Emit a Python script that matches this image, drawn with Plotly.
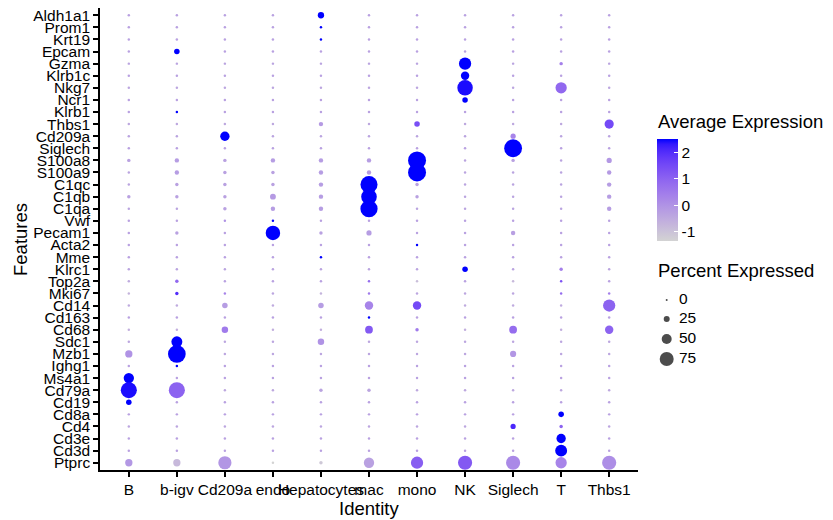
import plotly.graph_objects as go

genes = ["Aldh1a1","Prom1","Krt19","Epcam","Gzma","Klrb1c","Nkg7","Ncr1","Klrb1","Thbs1",
         "Cd209a","Siglech","S100a8","S100a9","C1qc","C1qb","C1qa","Vwf","Pecam1","Acta2",
         "Mme","Klrc1","Top2a","Mki67","Cd14","Cd163","Cd68","Sdc1","Mzb1","Ighg1",
         "Ms4a1","Cd79a","Cd19","Cd8a","Cd4","Cd3e","Cd3d","Ptprc"]

identities = ["B","b-igv","Cd209a","endo","Hepatocytes","mac","mono","NK","Siglech","T","Thbs1"]

# percent expressed, one row per gene, columns follow `identities`
pct_expressed = [
    [3,3,3,3,27,3,3,3,3,3,3],        # Aldh1a1
    [3,3,3,3,3,3,3,3,3,3,3],         # Prom1
    [3,3,3,3,3,3,3,3,3,3,3],         # Krt19
    [3,22,3,3,3,3,3,3,3,3,3],        # Epcam
    [3,3,3,3,3,3,3,64,3,9,3],        # Gzma
    [3,3,3,3,3,3,3,40,3,3,3],        # Klrb1c
    [3,3,3,3,3,3,3,84,3,58,3],       # Nkg7
    [3,3,3,3,3,3,3,22,3,3,3],        # Ncr1
    [3,3,3,3,3,3,3,3,3,3,3],         # Klrb1
    [3,3,3,3,15,3,22,3,3,3,45],      # Thbs1
    [3,3,46,3,3,3,3,3,20,3,3],       # Cd209a
    [3,3,3,3,3,3,3,3,99,3,3],        # Siglech
    [9,15,9,15,15,15,100,3,9,3,20],  # S100a8
    [3,15,9,9,15,15,100,3,3,3,15],   # S100a9
    [3,9,9,9,15,94,9,3,3,3,15],      # C1qc
    [9,9,9,24,15,85,9,3,3,3,15],     # C1qb
    [3,3,9,15,15,95,3,3,3,3,15],     # C1qa
    [3,3,3,3,3,3,3,3,3,3,3],         # Vwf
    [3,9,3,78,9,20,3,3,15,3,3],      # Pecam1
    [3,3,3,3,3,3,3,3,3,3,3],         # Acta2
    [3,3,3,3,3,3,3,3,3,3,3],         # Mme
    [3,3,3,3,3,3,3,22,3,9,3],        # Klrc1
    [3,9,3,3,3,3,3,3,3,3,3],         # Top2a
    [3,9,3,3,3,3,3,3,3,3,3],         # Mki67
    [3,3,22,3,22,40,40,3,3,3,64],    # Cd14
    [3,3,3,3,3,3,3,3,3,3,3],         # Cd163
    [3,3,28,3,3,36,9,3,36,3,40],     # Cd68
    [3,56,3,3,28,3,3,3,3,3,3],       # Sdc1
    [33,98,3,3,3,3,3,3,26,3,3],      # Mzb1
    [3,3,3,3,3,3,3,3,3,3,3],         # Ighg1
    [52,3,3,3,3,3,3,3,3,3,3],        # Ms4a1
    [88,88,3,3,9,9,3,3,3,3,3],       # Cd79a
    [22,3,3,3,3,3,3,3,3,3,3],        # Cd19
    [3,3,3,3,3,3,3,3,3,22,3],        # Cd8a
    [3,3,3,3,3,3,3,3,20,9,3],        # Cd4
    [3,3,3,3,3,3,3,3,3,46,3],        # Cd3e
    [3,3,3,3,3,3,3,3,3,62,3],        # Cd3d
    [33,33,70,3,9,52,64,76,76,58,76],# Ptprc
]

# scaled average expression, same layout
avg_expression = [
    [-0.3,-0.3,-0.3,-0.3,2.5,-0.3,-0.3,-0.3,-0.3,-0.3,-0.3],     # Aldh1a1
    [-0.3,-0.3,-0.3,-0.3,2.5,-0.3,-0.3,-0.3,-0.3,-0.3,-0.3],     # Prom1
    [-0.3,-0.3,-0.3,-0.3,2.5,-0.3,-0.3,-0.3,-0.3,-0.3,-0.3],     # Krt19
    [-0.3,2.5,-0.3,-0.3,-0.3,-0.3,-0.3,-0.3,-0.3,-0.3,-0.3],     # Epcam
    [-0.35,-0.35,-0.35,-0.35,-0.35,-0.35,-0.35,2.5,-0.35,0.4,-0.35], # Gzma
    [-0.3,-0.3,-0.3,-0.3,-0.3,-0.3,-0.3,2.5,-0.3,-0.3,-0.3],     # Klrb1c
    [-0.4,-0.4,-0.4,-0.4,-0.4,-0.4,-0.4,2.4,-0.4,0.9,-0.4],      # Nkg7
    [-0.3,-0.3,-0.3,-0.3,-0.3,-0.3,-0.3,2.5,-0.3,-0.3,-0.3],     # Ncr1
    [-0.3,2.5,-0.3,-0.3,-0.3,-0.3,-0.3,-0.3,-0.3,-0.3,-0.3],     # Klrb1
    [-0.45,-0.45,-0.45,-0.45,-0.15,-0.45,1.4,-0.45,-0.45,-0.45,1.5], # Thbs1
    [-0.35,-0.35,2.5,-0.35,-0.35,-0.35,-0.35,-0.35,0.3,-0.35,-0.35], # Cd209a
    [-0.3,-0.3,-0.3,-0.3,-0.3,-0.3,-0.3,-0.3,2.5,-0.3,-0.3],     # Siglech
    [-0.3,-0.2,-0.3,-0.2,-0.2,-0.2,2.5,-0.35,-0.3,-0.35,-0.1],   # S100a8
    [-0.35,-0.2,-0.3,-0.3,-0.2,-0.2,2.5,-0.35,-0.35,-0.35,-0.15],# S100a9
    [-0.35,-0.3,-0.3,-0.3,-0.2,2.5,-0.3,-0.35,-0.35,-0.35,-0.2], # C1qc
    [-0.3,-0.3,-0.3,-0.15,-0.2,2.5,-0.3,-0.35,-0.35,-0.35,-0.2], # C1qb
    [-0.35,-0.35,-0.3,-0.2,-0.2,2.5,-0.35,-0.35,-0.35,-0.35,-0.2], # C1qa
    [-0.3,-0.3,0.0,2.5,-0.3,-0.3,-0.3,-0.3,-0.3,-0.3,-0.3],      # Vwf
    [-0.3,-0.3,-0.3,2.5,-0.3,-0.2,-0.3,-0.3,-0.25,-0.3,-0.3],    # Pecam1
    [-0.3,-0.3,-0.3,-0.3,-0.3,-0.3,2.5,-0.3,-0.3,-0.3,-0.3],     # Acta2
    [-0.3,-0.3,-0.3,-0.3,2.5,-0.3,-0.3,-0.3,-0.3,-0.3,-0.3],     # Mme
    [-0.35,-0.35,-0.35,-0.35,-0.35,-0.35,-0.35,2.5,-0.35,0.4,-0.35], # Klrc1
    [-0.5,0.9,-0.3,-0.3,-0.3,0.8,-0.9,-0.3,-0.8,1.3,-0.3],       # Top2a
    [-0.7,2.0,0.3,-0.4,-0.7,0.5,-0.4,-0.4,-0.4,0.8,0.4],         # Mki67
    [-0.5,-0.5,-0.2,-0.5,-0.2,0.3,1.5,-0.5,-0.5,-0.5,1.0],       # Cd14
    [-0.3,-0.3,-0.3,-0.3,-0.3,2.5,-0.3,-0.3,-0.3,-0.3,-0.3],     # Cd163
    [-0.6,-0.6,0.5,-0.6,-0.6,1.2,0.5,-0.6,0.8,-0.6,1.0],         # Cd68
    [-0.4,2.5,-0.4,-0.4,0.0,-0.4,-0.4,-0.4,-0.4,-0.4,-0.4],      # Sdc1
    [0.0,2.5,-0.4,-0.4,-0.4,-0.4,-0.4,-0.4,-0.05,-0.4,-0.4],     # Mzb1
    [-0.3,2.5,-0.3,-0.3,-0.3,-0.3,-0.3,-0.3,-0.3,-0.3,-0.3],     # Ighg1
    [2.5,-0.3,-0.3,-0.3,-0.3,-0.3,-0.3,-0.3,-0.3,-0.3,-0.3],     # Ms4a1
    [2.4,1.0,-0.45,-0.45,-0.35,-0.35,-0.45,-0.45,-0.45,-0.45,-0.45], # Cd79a
    [2.5,-0.3,-0.3,-0.3,-0.3,-0.3,-0.3,-0.3,-0.3,-0.3,-0.3],     # Cd19
    [-0.3,-0.3,-0.3,-0.3,-0.3,-0.3,-0.3,-0.3,-0.3,2.5,-0.3],     # Cd8a
    [-0.4,-0.4,-0.4,-0.4,-0.4,-0.4,-0.4,-0.4,2.1,1.0,-0.4],      # Cd4
    [-0.3,-0.3,-0.3,-0.3,-0.3,-0.3,-0.3,-0.3,-0.3,2.5,-0.3],     # Cd3e
    [-0.3,-0.3,-0.3,-0.3,-0.3,-0.3,-0.3,-0.3,-0.3,2.5,-0.3],     # Cd3d
    [-0.1,-0.8,-0.05,-1.34,-1.1,-0.3,1.1,1.2,0.2,0.3,0.1],       # Ptprc
]

size_legend_values = [0, 25, 50, 75]
color_ticks = [-1, 0, 1, 2]

FONT = "Liberation Sans, Arial, sans-serif"
TICK_SIZE = 15.5
TITLE_SIZE = 18.5


def dot_size(p):
    return 2.0 + 0.16 * p


# ---- ggplot-like gradient lightgrey -> blue, interpolated in CIELAB ----
def _srgb_to_lin(c):
    c = c / 255.0
    return c / 12.92 if c <= 0.04045 else ((c + 0.055) / 1.055) ** 2.4


def _lin_to_srgb(c):
    c = 12.92 * c if c <= 0.0031308 else 1.055 * (c ** (1 / 2.4)) - 0.055
    return max(0, min(255, round(c * 255)))


def rgb_to_lab(rgb):
    r, g, b = (_srgb_to_lin(v) for v in rgb)
    X = 0.4124 * r + 0.3576 * g + 0.1805 * b
    Y = 0.2126 * r + 0.7152 * g + 0.0722 * b
    Z = 0.0193 * r + 0.1192 * g + 0.9505 * b
    Xn, Yn, Zn = 0.95047, 1.0, 1.08883

    def f(t):
        return t ** (1 / 3) if t > 216 / 24389 else (24389 / 27 * t + 16) / 116
    fx, fy, fz = f(X / Xn), f(Y / Yn), f(Z / Zn)
    return (116 * fy - 16, 500 * (fx - fy), 200 * (fy - fz))


def lab_to_rgb(lab):
    L, a, b = lab
    fy = (L + 16) / 116
    fx = fy + a / 500
    fz = fy - b / 200

    def finv(t):
        return t ** 3 if t ** 3 > 216 / 24389 else (116 * t - 16) / (24389 / 27)
    X, Y, Z = 0.95047 * finv(fx), finv(fy), 1.08883 * finv(fz)
    r = 3.2406 * X - 1.5372 * Y - 0.4986 * Z
    g = -0.9689 * X + 1.8758 * Y + 0.0415 * Z
    bb = 0.0557 * X - 0.2040 * Y + 1.0570 * Z
    return tuple(_lin_to_srgb(max(0.0, v)) for v in (r, g, bb))


lo = rgb_to_lab((211, 211, 211))
hi = rgb_to_lab((0, 0, 255))
colorscale = []
N = 20
for i in range(N + 1):
    t = i / N
    lab = tuple(lo[k] + (hi[k] - lo[k]) * t for k in range(3))
    r, g, b = lab_to_rgb(lab)
    colorscale.append([t, f"rgb({r},{g},{b})"])

# ---- build long-format data ----
xs, ys, sz, cl = [], [], [], []
for gi, gene in enumerate(genes):
    for ci, ident in enumerate(identities):
        xs.append(ident)
        ys.append(gene)
        sz.append(dot_size(pct_expressed[gi][ci]))
        cl.append(avg_expression[gi][ci])

cmin = min(min(r) for r in avg_expression)
cmax = max(max(r) for r in avg_expression)

# The page body has an 8px default margin; work in window pixels and offset.
OFF = 8
W, H = 833 - OFF, 520 - OFF
PLOT_L, PLOT_R, PLOT_T, PLOT_B = 100, 638, 8, 470      # window pixels
ML = PLOT_L - OFF
MT = PLOT_T - OFF
MB = H - (PLOT_B - OFF)
MR = 5
PW = W - ML - MR
PH = H - MT - MB


def px_x(px):
    return (px - OFF - ML) / PW


def px_y(py):
    return (H - MB - (py - OFF)) / PH


# colour bar geometry (window pixels)
CB_L, CB_W, CB_CY, CB_LEN = 657, 21, 190, 102

fig = go.Figure()
fig.add_trace(go.Scatter(
    x=xs, y=ys, mode="markers", showlegend=False, hoverinfo="skip",
    marker=dict(
        size=sz, sizemode="diameter", color=cl, colorscale=colorscale,
        cmin=cmin, cmax=cmax, line=dict(width=0), opacity=1,
        colorbar=dict(
            x=px_x(CB_L), xanchor="left", xpad=0,
            y=px_y(CB_CY), yanchor="middle", ypad=0,
            len=CB_LEN, lenmode="pixels", thickness=CB_W, thicknessmode="pixels",
            outlinewidth=0, tickmode="array", tickvals=color_ticks,
            ticktext=[str(v) for v in color_ticks],
            ticks="inside", ticklen=4, tickcolor="white", tickwidth=1,
            tickfont=dict(family=FONT, size=TICK_SIZE, color="black"),
        ),
    ),
))

# white tick marks on the left edge of the colour bar (ggplot style)
cb_shapes = []
for v in color_ticks:
    py = CB_CY + CB_LEN / 2 - (v - cmin) / (cmax - cmin) * CB_LEN
    cb_shapes.append(dict(
        type="line", xref="paper", yref="paper",
        x0=px_x(CB_L), x1=px_x(CB_L + 4), y0=px_y(py), y1=px_y(py),
        line=dict(color="white", width=1), layer="above",
    ))

# size legend drawn on its own small axes
leg_y = [10, 29, 49, 69]
fig.add_trace(go.Scatter(
    x=[11.7] * len(size_legend_values), y=leg_y, mode="markers",
    xaxis="x2", yaxis="y2", showlegend=False, hoverinfo="skip",
    marker=dict(size=[dot_size(v) for v in size_legend_values], sizemode="diameter",
                color="black", line=dict(width=0)),
))
fig.add_trace(go.Scatter(
    x=[24] * len(size_legend_values), y=leg_y, mode="text",
    text=[str(v) for v in size_legend_values], textposition="middle right",
    xaxis="x2", yaxis="y2", showlegend=False, hoverinfo="skip",
    textfont=dict(family=FONT, size=TICK_SIZE, color="black"),
))

axis_common = dict(
    showgrid=False, zeroline=False, showline=True, linecolor="black", linewidth=1.5,
    ticks="outside", ticklen=5, tickwidth=1.5, tickcolor="black", automargin=False,
    tickfont=dict(family=FONT, size=TICK_SIZE, color="black"),
)

fig.update_layout(
    template="none",
    width=W, height=H,
    margin=dict(l=ML, r=MR, t=MT, b=MB),
    paper_bgcolor="white", plot_bgcolor="white",
    font=dict(family=FONT, color="black"),
    shapes=cb_shapes,
    xaxis=dict(
        type="category", categoryorder="array", categoryarray=identities,
        tickmode="array", tickvals=identities, ticktext=identities, tickangle=0,
        range=[-0.6, len(identities) - 0.4], domain=[0, px_x(PLOT_R)],
        anchor="y", **axis_common,
    ),
    yaxis=dict(
        type="category", categoryorder="array", categoryarray=genes[::-1],
        tickmode="array", tickvals=genes, ticktext=genes,
        range=[-0.6, len(genes) - 0.4], domain=[0, 1], anchor="x",
        **axis_common,
    ),
    xaxis2=dict(domain=[px_x(655), px_x(755)], range=[0, 100], visible=False,
                anchor="y2", fixedrange=True, automargin=False),
    yaxis2=dict(domain=[px_y(370), px_y(290)], range=[80, 0], visible=False,
                anchor="x2", fixedrange=True, automargin=False),
    annotations=[
        dict(text="Identity", x=px_x((PLOT_L + PLOT_R) / 2), y=px_y(508),
             xref="paper", yref="paper", showarrow=False,
             xanchor="center", yanchor="middle",
             font=dict(family=FONT, size=TITLE_SIZE, color="black")),
        dict(text="Features", x=px_x(20), y=px_y(240), textangle=-90,
             xref="paper", yref="paper", showarrow=False,
             xanchor="center", yanchor="middle",
             font=dict(family=FONT, size=TITLE_SIZE, color="black")),
        dict(text="Average Expression", x=px_x(656), y=px_y(122),
             xref="paper", yref="paper", showarrow=False,
             xanchor="left", yanchor="middle",
             font=dict(family=FONT, size=TITLE_SIZE, color="black")),
        dict(text="Percent Expressed", x=px_x(656), y=px_y(270),
             xref="paper", yref="paper", showarrow=False,
             xanchor="left", yanchor="middle",
             font=dict(family=FONT, size=TITLE_SIZE, color="black")),
    ],
)

fig.write_html("out.html")
